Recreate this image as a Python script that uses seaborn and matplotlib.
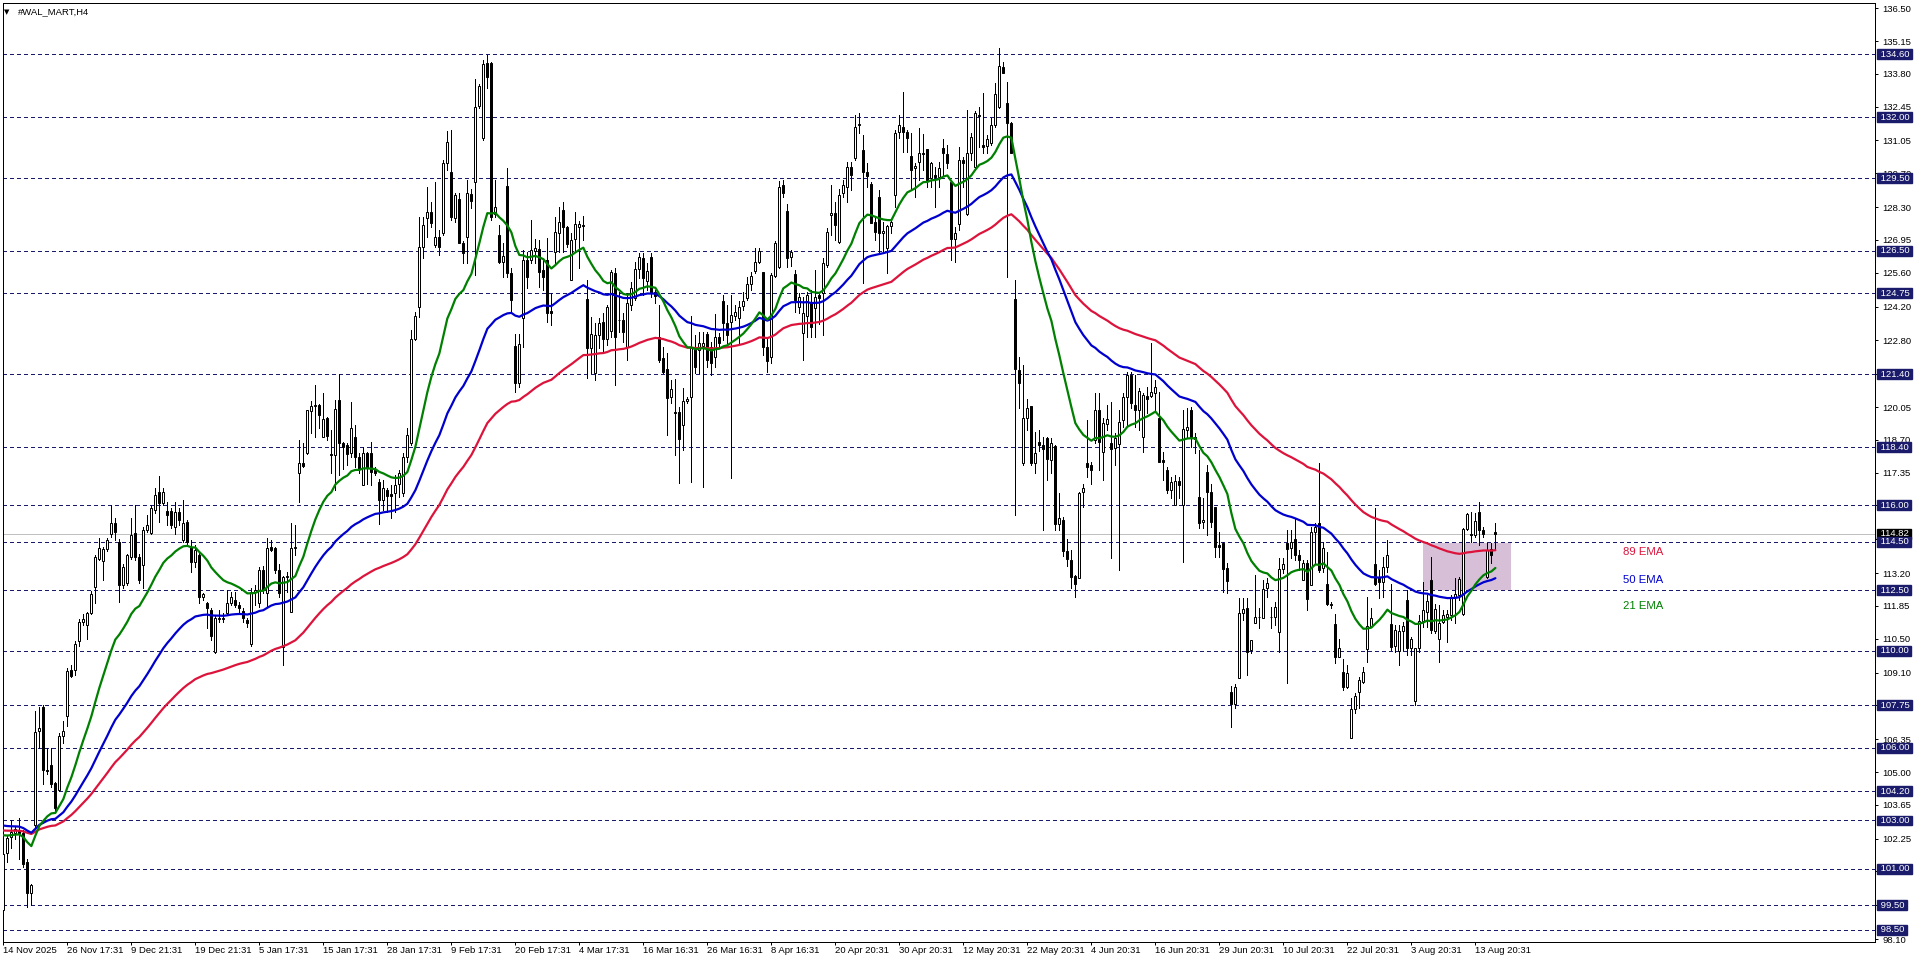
import numpy as np
import pandas as pd
import seaborn as sns
import matplotlib.pyplot as plt
from matplotlib.patches import Rectangle
from matplotlib.transforms import offset_copy

sns.set_style("white")
plt.rcParams["font.family"] = ["Liberation Sans", "DejaVu Sans"]

# ---- data (H4 bars) ----
opens = [
    99.3, 101.65, 102.33, 102.5, 102.6, 102.5, 101.3, 100.0, 102.8, 106.7,
    107.7, 105.1, 105.3, 104.53, 104.25, 106.5, 107.3, 109.2, 109.2, 110.4,
    111.2, 111.06, 111.54, 112.64, 113.8, 113.7, 114.2, 114.8, 115.26, 114.5,
    112.7, 112.78, 113.88, 114.85, 113.88, 113.54, 114.98, 114.85, 115.8, 116.56,
    116.08, 115.78, 115.78, 115.12, 115.74, 114.57, 115.33, 114.29, 113.68, 113.95,
    112.23, 111.96, 111.68, 109.96, 111.3, 111.35, 111.54, 111.96, 112.1, 111.9,
    111.65, 111.27, 110.3, 112.44, 111.96, 113.33, 112.37, 114.3, 114.23, 113.33,
    110.17, 113.06, 111.6, 114.23, 117.32, 117.75, 118.15, 119.9, 120.1, 120.15,
    118.83, 119.59, 118.12, 118.08, 120.35, 118.56, 118.5, 118.14, 118.8, 117.98,
    116.84, 118.14, 118.14, 117.46, 116.97, 116.22, 116.63, 116.45, 116.5, 116.88,
    116.5, 118.0, 118.56, 122.85, 124.2, 126.64, 127.84, 128.11, 126.74, 127.05,
    127.25, 130.13, 129.73, 127.84, 128.62, 126.81, 127.08, 128.84, 129.35, 132.47,
    131.14, 134.23, 134.23, 128.0, 127.15, 126.05, 129.17, 125.6, 122.57, 121.03,
    123.71, 126.12, 126.12, 126.5, 126.57, 125.71, 126.12, 124.0, 126.46, 127.22,
    128.18, 127.47, 125.3, 126.97, 127.5, 127.55, 124.51, 122.48, 121.45, 123.03,
    123.55, 122.85, 123.2, 125.57, 123.65, 123.65, 122.55, 124.26, 124.54, 125.75,
    126.19, 125.27, 126.23, 124.81, 122.96, 122.06, 121.61, 120.46, 119.83, 119.83,
    119.3, 120.32, 120.46, 122.48, 122.41, 122.59, 123.05, 122.54, 122.13, 122.96,
    124.44, 123.53, 123.58, 123.82, 123.71, 124.23, 124.54, 125.13, 125.68, 126.05,
    125.64, 122.54, 122.11, 125.46, 125.82, 129.21, 128.14, 126.23, 125.54, 124.19,
    123.1, 123.81, 124.33, 124.13, 124.66, 124.74, 125.91, 127.97, 128.07, 126.88,
    128.87, 129.14, 129.97, 130.31, 131.7, 130.65, 129.76, 129.24, 127.7, 128.73,
    127.22, 126.6, 127.52, 128.8, 131.41, 131.62, 131.41, 130.41, 129.9, 130.17,
    130.55, 130.69, 129.49, 129.62, 129.56, 130.72, 130.49, 129.35, 126.97, 127.6,
    130.24, 128.02, 130.55, 129.97, 132.1, 130.86, 130.82, 130.93, 131.69, 132.44,
    134.09, 132.58, 131.76, 124.5, 121.58, 117.73, 119.59, 120.1, 117.73, 118.62,
    118.5, 118.76, 117.87, 118.45, 115.25, 115.4, 114.1, 113.74, 113.08, 112.99,
    116.56, 117.73, 117.66, 118.69, 119.93, 118.21, 119.34, 118.58, 118.35, 118.55,
    119.52, 120.48, 121.37, 120.14, 119.93, 118.83, 120.51, 120.51, 120.62, 119.59,
    117.87, 117.46, 116.63, 116.01, 117.0, 116.01, 119.11, 119.93, 118.83, 116.36,
    115.3, 117.39, 116.56, 115.94, 114.35, 114.46, 113.4, 108.31, 107.8, 108.86,
    111.54, 111.75, 110.03, 111.13, 111.38, 111.34, 112.57, 111.38, 111.38, 110.79,
    113.36, 114.43, 114.23, 114.6, 113.95, 112.92, 113.61, 112.71, 114.91, 115.26,
    113.4, 112.75, 111.95, 111.1, 109.76, 109.14, 108.49, 106.4, 107.59, 108.29,
    108.73, 110.06, 111.02, 113.6, 113.05, 112.82, 113.47, 111.09, 110.21, 109.99,
    110.82, 112.09, 110.1, 107.94, 110.1, 111.24, 111.61, 112.92, 110.83, 110.49,
    111.17, 111.4, 111.47, 112.23, 112.3, 111.5, 115.01, 114.82, 114.78, 115.71,
    114.98, 113.06, 114.2, 114.91,
]
highs = [
    101.7, 102.35, 103.0, 102.75, 103.1, 102.6, 101.4, 100.4, 107.5, 107.7,
    107.75, 106.0, 106.0, 104.6, 106.6, 107.1, 109.3, 109.4, 110.4, 111.3,
    111.5, 111.6, 112.45, 113.95, 114.64, 114.3, 114.65, 116.0, 115.46, 114.6,
    113.6, 114.0, 115.46, 116.0, 114.0, 115.1, 115.6, 116.0, 116.7, 117.2,
    116.7, 116.15, 115.9, 116.15, 115.9, 116.22, 115.4, 114.57, 114.36, 114.1,
    112.4, 112.0, 111.75, 111.45, 111.68, 111.54, 112.5, 112.44, 112.44, 112.0,
    111.75, 111.35, 112.6, 112.7, 113.47, 113.5, 114.64, 114.57, 114.3, 113.6,
    113.1, 113.26, 115.26, 115.19, 118.7, 118.56, 119.95, 120.3, 120.96, 120.2,
    120.62, 119.65, 119.1, 120.35, 121.42, 118.6, 118.56, 120.28, 119.3, 118.14,
    118.42, 118.2, 118.6, 117.6, 117.1, 117.05, 116.7, 116.84, 117.25, 117.46,
    118.14, 119.17, 123.23, 123.99, 127.9, 127.9, 129.14, 128.52, 129.35, 127.36,
    130.24, 131.45, 131.5, 128.87, 128.87, 126.92, 129.42, 129.03, 133.57, 133.38,
    134.37, 134.57, 134.3, 129.42, 127.56, 126.81, 129.9, 125.77, 123.07, 123.07,
    126.53, 126.46, 127.77, 127.0, 126.94, 126.12, 127.01, 124.74, 127.9, 128.32,
    128.53, 127.52, 127.22, 128.11, 127.74, 127.93, 125.3, 123.78, 123.51, 123.71,
    123.92, 124.26, 125.71, 125.78, 124.81, 123.92, 124.74, 125.23, 126.05, 126.4,
    126.4, 125.98, 126.4, 124.88, 124.26, 122.54, 122.27, 121.17, 121.2, 120.07,
    120.83, 120.48, 123.81, 123.03, 123.16, 123.16, 123.16, 122.75, 123.89, 123.1,
    124.68, 124.26, 124.68, 124.26, 124.44, 124.81, 125.43, 125.64, 126.6, 126.6,
    125.64, 122.96, 125.57, 126.92, 129.39, 129.42, 128.43, 126.53, 125.71, 124.74,
    124.61, 124.81, 124.88, 125.7, 124.81, 126.19, 127.43, 129.21, 128.52, 129.03,
    129.42, 130.17, 130.17, 132.1, 132.17, 131.27, 130.1, 129.35, 127.84, 129.0,
    127.7, 127.56, 127.77, 131.48, 132.1, 133.06, 131.48, 131.34, 130.1, 131.55,
    131.3, 130.69, 130.17, 129.97, 130.17, 131.1, 130.86, 129.35, 127.5, 130.79,
    130.38, 132.31, 131.34, 132.28, 132.44, 132.99, 131.27, 131.96, 133.41, 134.85,
    134.3, 133.47, 131.82, 125.3, 122.13, 121.79, 120.37, 120.1, 119.04, 119.11,
    118.83, 118.83, 118.76, 118.48, 116.5, 115.5, 114.6, 114.16, 113.13, 116.56,
    116.9, 119.52, 117.8, 120.62, 120.62, 119.59, 120.14, 120.28, 118.97, 119.93,
    120.62, 121.51, 121.51, 121.37, 120.83, 120.62, 120.9, 122.68, 121.17, 120.69,
    118.21, 117.6, 117.18, 117.25, 117.18, 119.93, 120.0, 120.07, 118.97, 118.28,
    116.29, 117.66, 116.9, 115.94, 114.91, 114.5, 113.61, 108.55, 108.63, 112.16,
    112.16, 112.16, 110.44, 113.13, 111.75, 112.92, 112.99, 111.82, 112.03, 113.81,
    113.81, 114.98, 114.98, 115.46, 114.16, 113.74, 113.74, 115.12, 115.26, 117.76,
    114.5, 114.09, 112.02, 111.52, 110.47, 109.66, 109.41, 108.04, 108.24, 108.93,
    109.34, 112.23, 111.75, 115.87, 113.33, 113.88, 114.57, 112.75, 111.06, 111.06,
    111.2, 112.5, 110.58, 110.1, 111.47, 112.85, 112.3, 113.88, 111.93, 111.89,
    111.68, 111.68, 112.3, 112.99, 113.06, 115.05, 115.67, 115.74, 115.67, 116.15,
    115.12, 114.43, 114.43, 115.26,
]
lows = [
    98.9, 101.3, 101.85, 102.25, 101.4, 101.1, 99.45, 99.5, 102.7, 106.0,
    104.5, 104.9, 104.4, 103.4, 104.2, 106.2, 106.9, 108.9, 109.0, 110.2,
    111.05, 110.5, 111.5, 111.96, 113.75, 112.9, 114.1, 114.7, 114.57, 112.03,
    112.6, 112.7, 113.8, 113.75, 112.78, 112.6, 114.9, 114.8, 115.7, 115.3,
    116.0, 115.19, 115.05, 114.8, 115.19, 114.5, 114.4, 113.26, 113.47, 111.96,
    112.1, 110.93, 110.45, 109.9, 111.2, 111.2, 111.48, 111.9, 111.82, 111.6,
    111.2, 111.0, 110.2, 111.9, 111.82, 112.4, 111.82, 114.1, 113.2, 112.23,
    109.4, 112.44, 111.6, 113.95, 116.15, 117.6, 118.1, 118.97, 118.8, 119.17,
    118.8, 118.69, 117.32, 116.63, 117.25, 117.5, 117.66, 118.0, 117.6, 117.32,
    116.84, 116.9, 116.84, 117.25, 115.25, 115.8, 115.74, 115.46, 115.74, 116.36,
    116.4, 117.8, 118.5, 122.8, 123.78, 126.19, 127.08, 127.49, 126.67, 126.32,
    127.15, 129.83, 127.77, 127.7, 126.81, 125.98, 125.98, 128.25, 125.5, 132.37,
    131.07, 133.2, 127.77, 127.9, 125.98, 125.43, 125.43, 123.92, 120.69, 120.9,
    122.54, 124.95, 125.98, 125.98, 125.02, 124.88, 123.57, 123.44, 125.98, 126.46,
    126.46, 126.67, 125.3, 126.46, 125.78, 126.95, 121.24, 121.45, 121.17, 122.48,
    122.34, 122.6, 122.96, 120.96, 123.17, 122.75, 122.0, 124.06, 124.47, 125.36,
    124.68, 124.88, 124.61, 124.33, 121.93, 121.45, 118.9, 120.21, 118.08, 116.91,
    118.28, 120.21, 116.98, 121.45, 121.45, 116.77, 121.72, 121.38, 121.72, 122.54,
    122.82, 122.68, 117.11, 123.65, 122.68, 124.06, 124.47, 124.88, 125.57, 125.98,
    122.2, 121.5, 121.86, 125.43, 125.78, 128.73, 125.85, 125.87, 123.99, 123.92,
    121.99, 122.96, 122.96, 122.96, 123.5, 123.03, 125.84, 127.15, 126.94, 126.81,
    128.73, 128.52, 129.0, 130.24, 131.34, 125.16, 129.14, 127.63, 126.94, 126.46,
    126.4, 125.57, 127.22, 128.32, 131.14, 130.58, 130.58, 129.0, 128.73, 129.42,
    129.83, 129.14, 129.14, 128.32, 129.14, 129.62, 129.9, 126.12, 126.05, 127.36,
    129.14, 127.97, 130.24, 129.83, 130.79, 130.52, 130.52, 130.86, 131.62, 132.37,
    133.82, 125.43, 130.52, 115.6, 120.0, 117.66, 119.11, 117.66, 117.32, 118.26,
    114.98, 117.05, 117.32, 114.98, 114.98, 113.9, 113.5, 112.57, 112.23, 112.99,
    115.94, 117.18, 116.9, 118.56, 117.46, 117.04, 119.11, 113.81, 117.66, 113.33,
    119.24, 119.31, 120.0, 119.24, 119.11, 118.21, 119.79, 120.48, 119.93, 117.8,
    117.04, 116.49, 116.29, 116.01, 116.29, 113.68, 118.76, 118.42, 118.14, 115.05,
    115.05, 114.77, 115.12, 113.88, 113.88, 112.44, 112.37, 106.87, 107.63, 108.86,
    111.27, 109.0, 109.89, 111.13, 110.93, 111.34, 112.23, 110.93, 111.06, 109.96,
    113.19, 108.66, 113.81, 113.74, 113.33, 112.92, 111.68, 112.71, 113.61, 113.26,
    113.26, 111.89, 111.75, 109.51, 109.76, 108.38, 108.45, 106.4, 107.42, 107.63,
    108.66, 109.55, 111.0, 112.71, 112.16, 112.23, 113.26, 110.03, 109.96, 109.41,
    110.03, 109.82, 109.82, 107.76, 109.96, 110.99, 110.99, 110.75, 110.72, 109.55,
    111.13, 110.37, 111.27, 111.13, 112.09, 111.47, 114.98, 114.5, 114.7, 114.36,
    114.7, 112.99, 113.61, 114.16,
]
closes = [
    101.6, 102.27, 102.54, 102.65, 102.5, 101.2, 100.0, 100.35, 106.66, 106.8,
    105.08, 105.05, 104.5, 103.5, 106.5, 106.7, 109.17, 108.95, 110.28, 111.2,
    111.3, 111.54, 112.35, 113.88, 114.23, 114.18, 114.57, 115.26, 114.9, 112.71,
    113.47, 113.95, 114.78, 113.88, 112.92, 114.98, 115.19, 115.87, 116.43, 116.08,
    116.56, 115.6, 115.19, 115.74, 115.4, 115.26, 114.5, 113.68, 114.16, 112.23,
    112.34, 111.75, 110.6, 111.34, 111.35, 111.3, 111.96, 112.23, 111.9, 111.75,
    111.34, 111.13, 112.44, 112.5, 113.33, 112.5, 114.23, 114.16, 113.33, 112.37,
    113.06, 113.1, 114.23, 114.3, 117.73, 117.62, 119.93, 120.1, 120.15, 119.72,
    119.55, 118.86, 118.06, 119.97, 118.56, 118.42, 118.11, 119.18, 118.0, 117.48,
    118.14, 117.53, 117.39, 117.32, 116.22, 116.7, 116.38, 116.38, 116.84, 117.32,
    118.0, 118.9, 122.85, 123.81, 126.64, 127.56, 128.11, 127.63, 127.05, 126.67,
    130.13, 130.99, 127.88, 128.8, 126.81, 126.42, 128.87, 128.56, 132.44, 133.3,
    134.2, 133.68, 127.9, 128.32, 126.05, 126.28, 125.6, 124.47, 121.03, 122.64,
    126.12, 125.43, 126.53, 126.6, 125.64, 125.43, 123.92, 123.95, 127.29, 127.7,
    127.47, 126.78, 126.95, 127.6, 127.6, 127.52, 122.48, 123.07, 123.03, 123.53,
    122.85, 124.19, 125.61, 122.96, 123.64, 123.17, 124.33, 124.95, 125.75, 126.23,
    125.36, 125.68, 124.74, 124.64, 121.99, 121.51, 120.41, 120.78, 119.82, 118.72,
    120.32, 120.37, 122.48, 121.72, 122.71, 122.68, 121.99, 121.86, 122.96, 122.68,
    123.53, 123.03, 123.85, 123.96, 124.19, 124.44, 125.13, 125.46, 126.05, 126.51,
    122.54, 121.97, 125.5, 126.83, 129.14, 128.87, 126.19, 126.46, 124.47, 124.6,
    123.92, 124.68, 123.37, 124.6, 124.54, 125.98, 127.29, 128.07, 127.56, 128.8,
    129.21, 129.97, 129.63, 131.62, 131.72, 129.76, 129.58, 127.66, 127.29, 127.22,
    127.32, 127.52, 127.7, 131.34, 131.69, 131.41, 131.14, 129.83, 129.99, 130.52,
    130.5, 129.42, 130.1, 129.53, 129.9, 130.52, 130.1, 126.97, 127.22, 130.24,
    130.1, 130.55, 131.18, 132.17, 132.07, 130.77, 131.1, 131.69, 132.97, 134.12,
    133.84, 131.76, 130.55, 121.61, 121.03, 119.59, 120.0, 117.73, 118.17, 118.48,
    118.31, 117.9, 118.56, 115.25, 115.46, 114.1, 113.8, 113.06, 112.75, 116.49,
    116.7, 117.6, 117.46, 119.93, 118.62, 119.41, 119.55, 118.31, 118.76, 119.45,
    120.45, 121.37, 120.21, 119.93, 120.73, 120.55, 120.37, 120.69, 120.9, 117.8,
    117.77, 116.63, 116.97, 117.0, 116.84, 119.13, 119.24, 118.83, 118.72, 115.26,
    115.4, 116.56, 115.33, 114.3, 114.27, 113.36, 112.89, 107.8, 108.49, 111.57,
    111.71, 109.96, 110.44, 111.38, 111.38, 112.53, 112.78, 111.38, 111.79, 113.36,
    113.57, 114.18, 114.5, 113.95, 113.74, 113.61, 112.12, 114.91, 115.12, 113.33,
    114.25, 111.93, 111.88, 109.73, 110.1, 108.49, 109.07, 107.59, 108.13, 108.8,
    109.11, 111.02, 111.35, 112.75, 112.82, 113.44, 113.94, 110.17, 110.86, 110.82,
    111.02, 110.13, 110.47, 110.1, 111.23, 111.68, 112.07, 110.86, 111.72, 111.13,
    111.49, 111.5, 112.23, 112.33, 112.96, 115.01, 115.63, 114.78, 115.35, 114.98,
    114.82, 114.16, 113.95, 114.82,
]

# EMA periods, colours and the values the lines start from at the left edge
ema_periods = [89, 50, 21]
ema_colors = ["#DC143C", "#0000CD", "#008000"]
ema_start = [102.61, 102.84, 102.47]
ema_text_y = [114.07, 112.92, 111.85]

levels = [134.60, 132.00, 129.50, 126.50, 124.75, 121.40, 118.40, 116.00, 114.50,
          112.50, 110.00, 107.75, 106.00, 104.20, 103.00, 101.00, 99.50, 98.50]
last_price = 114.82

price_ticks = [136.50, 135.15, 133.80, 132.45, 131.05, 129.70, 128.30, 126.95, 125.60,
               124.20, 122.80, 121.40, 120.05, 118.70, 117.35, 116.00, 114.60, 113.20,
               111.85, 110.50, 109.10, 107.75, 106.35, 105.00, 103.65, 102.25, 100.90,
               99.50, 98.10]
time_labels = ["14 Nov 2025", "26 Nov 17:31", "9 Dec 21:31", "19 Dec 21:31", "5 Jan 17:31",
               "15 Jan 17:31", "28 Jan 17:31", "9 Feb 17:31", "20 Feb 17:31", "4 Mar 17:31",
               "16 Mar 16:31", "26 Mar 16:31", "8 Apr 16:31", "20 Apr 20:31", "30 Apr 20:31",
               "12 May 20:31", "22 May 20:31", "4 Jun 20:31", "16 Jun 20:31", "29 Jun 20:31",
               "10 Jul 20:31", "22 Jul 20:31", "3 Aug 20:31", "13 Aug 20:31"]

# zone box (bar index span, price span)
zone_x = [354.8, 376.8]
zone_y = [112.5, 114.46]

df = pd.DataFrame({"open": opens, "high": highs, "low": lows, "close": closes})
df["bar"] = np.arange(len(df))
for n, start in zip(ema_periods, ema_start):
    s = pd.concat([pd.Series([start]), df["close"]], ignore_index=True)
    df[f"ema{n}"] = s.ewm(span=n, adjust=False).mean().iloc[1:].values

W, H = 1916, 963
fig = plt.figure(figsize=(W / 100, H / 100), dpi=100)
fig.patch.set_facecolor("white")
ax = fig.add_axes([2.5 / W, (H - 942.3) / H, (1875 - 2.5) / W, (942.3 - 3) / H])
ax.set_facecolor("white")

navy = "#1B1B6B"
px = 0.72  # one pixel in points
fs = 6.8

ax.add_patch(Rectangle((zone_x[0], zone_y[0]), zone_x[1] - zone_x[0], zone_y[1] - zone_y[0],
                       facecolor="#D8BFD8", edgecolor="none", zorder=0.5))
for lv in levels:
    ax.axhline(lv, color=navy, lw=px, linestyle=(0, (3, 3)), zorder=1, antialiased=False)
ax.axhline(last_price, color="#C0C0C0", lw=px, zorder=1, antialiased=False)

up = df[df["close"] >= df["open"]]
dn = df[df["close"] < df["open"]]
ax.vlines(df["bar"], df["low"], df["high"], color="black", lw=px, zorder=2,
          antialiased=False)
ax.bar(up["bar"], up["close"] - up["open"], bottom=up["open"], width=0.5,
       color="white", edgecolor="black", linewidth=px, zorder=3)
ax.bar(dn["bar"], dn["open"] - dn["close"], bottom=dn["close"], width=0.5,
       color="black", edgecolor="black", linewidth=px, zorder=3)

for n, c in zip(ema_periods, ema_colors):
    sns.lineplot(data=df, x="bar", y=f"ema{n}", color=c, lw=1.6, ax=ax, zorder=4, legend=False)

for n, c, ty in zip(ema_periods, ema_colors, ema_text_y):
    ax.text(404.9, ty, f"{n} EMA", color=c, fontsize=8.2, ha="left", va="center", zorder=5)

ax.set_xlim(-0.21, 467.9)
ax.set_ylim(97.976, 136.72)
ax.set_xlabel("")
ax.set_ylabel("")

ax.yaxis.tick_right()
ax.set_yticks(price_ticks)
ax.set_yticklabels([f"{v:.2f}" for v in price_ticks])
ax.tick_params(axis="y", which="major", right=True, left=False, length=2.2, width=px,
               pad=3, labelsize=fs, colors="black")
ax.set_xticks(np.arange(len(time_labels)) * 16)
ax.set_xticklabels(time_labels)
ax.tick_params(axis="x", which="major", bottom=True, length=2.5, width=px, pad=0.5,
               labelsize=fs, colors="black")
for lab in ax.get_xticklabels():
    lab.set_horizontalalignment("left")
for sp in ax.spines.values():
    sp.set_visible(True)
    sp.set_color("black")
    sp.set_linewidth(px)

# price labels on the right scale
lab_tr = offset_copy(ax.get_yaxis_transform(), fig=fig, x=2.5, y=0, units="dots")
ax.text(1.0, last_price, f" {last_price:.2f} ", transform=lab_tr, color="white",
        fontsize=fs, ha="left", va="center", zorder=9, clip_on=False,
        bbox=dict(boxstyle="square,pad=0.05", fc="black", ec="black"))
for lv in levels:
    ax.text(1.0, lv, f" {lv:.2f} ", transform=lab_tr, color="white", fontsize=fs,
            ha="left", va="center", zorder=10, clip_on=False,
            bbox=dict(boxstyle="square,pad=0.05", fc=navy, ec=navy))

fig.text(4 / W, 1 - 12 / H, "▼", fontsize=5, ha="left", va="center", color="black",
         family="DejaVu Sans")
fig.text(18 / W, 1 - 12 / H, "#WAL_MART,H4", fontsize=fs, ha="left", va="center",
         color="black")

fig.savefig("out.png", dpi=100, facecolor="white")
